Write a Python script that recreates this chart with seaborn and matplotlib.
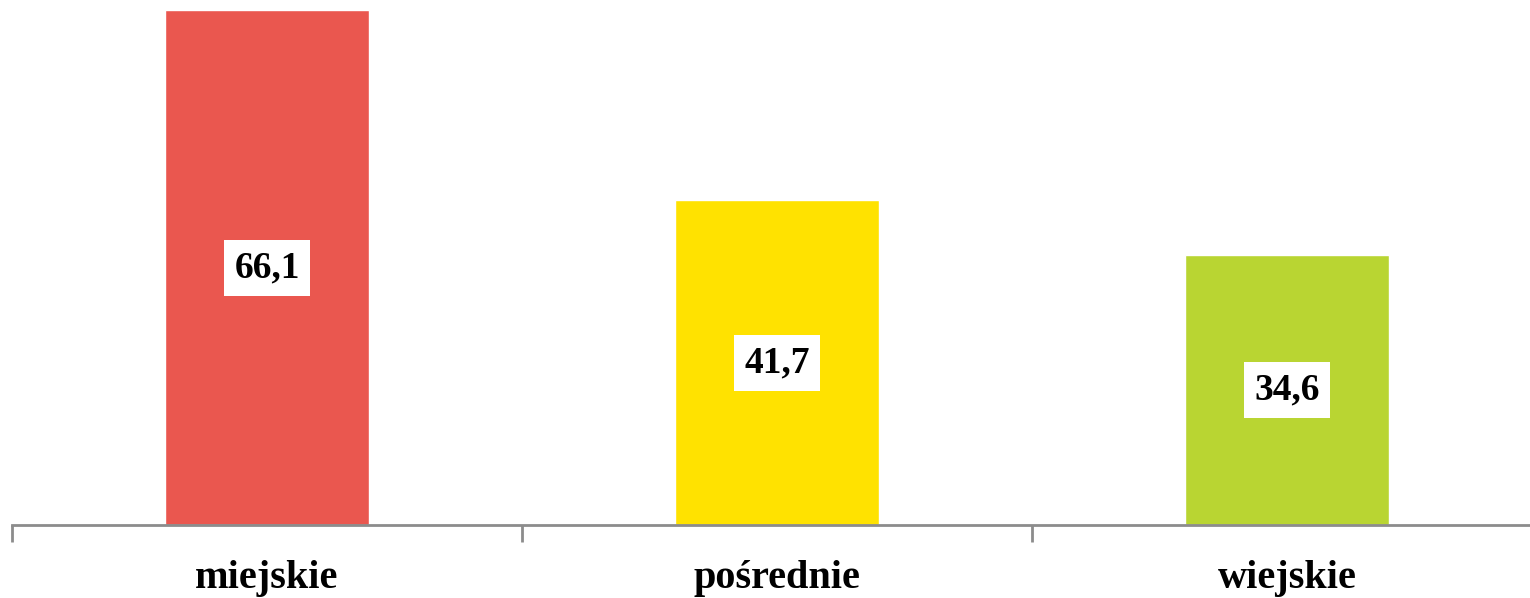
import matplotlib
matplotlib.use("Agg")
import matplotlib.pyplot as plt
import seaborn as sns
import pandas as pd

categories = ["miejskie", "pośrednie", "wiejskie"]
values = [66.1, 41.7, 34.6]
value_labels = ["66,1", "41,7", "34,6"]
colors = ["#EA574F", "#FFE200", "#B9D532"]

sns.set_theme(style="white")
plt.rcParams['font.family'] = ['Liberation Serif', 'DejaVu Serif']

fig = plt.figure(figsize=(15.3, 5.98), dpi=100)
W, H = 1530, 598
ax = fig.add_axes([12 / W, (H - 525) / H, 1530 / W, (525 - 10) / H])

df = pd.DataFrame({"cat": categories, "val": values})
sns.barplot(data=df, x="cat", y="val", hue="cat", palette=colors,
            width=0.4, legend=False, ax=ax, saturation=1)

ax.set_xlim(-0.5, 2.5)
ax.set_ylim(0, 66.1)
ax.set_xlabel("")
ax.set_ylabel("")
ax.set_yticks([])
for s in ["top", "right", "left"]:
    ax.spines[s].set_visible(False)
ax.spines["bottom"].set_color("#8C8C8C")
ax.spines["bottom"].set_linewidth(2)

ax.set_xticks([-0.5, 0.5, 1.5], minor=True)
ax.tick_params(axis="x", which="minor", length=12, width=2, color="#8C8C8C", direction="out", bottom=True)
ax.tick_params(axis="x", which="major", length=0, pad=25, labelsize=29)
for lbl in ax.get_xticklabels():
    lbl.set_fontweight("bold")
    lbl.set_color("black")

for i, (v, t) in enumerate(zip(values, value_labels)):
    ax.text(i, v / 2, t, ha="center", va="center", fontsize=27, fontweight="bold",
            color="black",
            bbox=dict(boxstyle="square,pad=0.28", facecolor="white", edgecolor="none"))

fig.savefig("out.png", dpi=100)
